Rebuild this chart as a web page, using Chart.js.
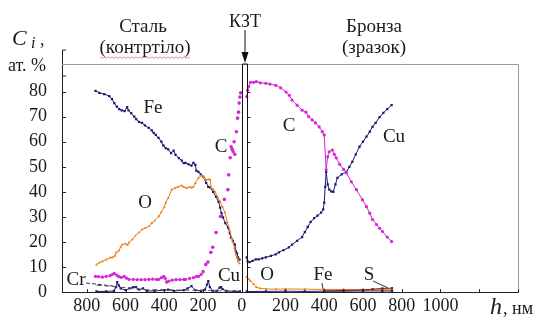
<!DOCTYPE html>
<html>
<head>
<meta charset="utf-8">
<script src="https://cdn.jsdelivr.net/npm/chart.js@4"></script>
<style>
  body { margin: 0; background: #fff; }
  canvas { display: block; }
  .fontwarm { position: absolute; left: 0; top: 400px; font-family: 'Liberation Serif'; }
</style>
</head>
<body>
<canvas id="profileChart" width="543" height="318"></canvas>
<div class="fontwarm">Сталь (контртіло) 800 <i>Ci h</i></div>
<script>
// depth h (nm), concentration C (at. %)
// steel side (counterbody)
const steelFe = [[755,80.3],[735,79.5],[710,79],[684,78.2],[670,77],[658,75.4],[645,74],[633,73],[620,72.5],[605,72.2],[592,73.8],[585,72.5],[571,71.4],[555,70],[545,69],[531,67.9],[515,67.5],[500,66.5],[480,65.5],[465,64.5],[455,63.5],[444,62.7],[430,61.5],[415,60],[405,58.5],[393,57.5],[380,57],[365,55.5],[352,56.5],[342,54.8],[325,53.5],[310,52.5],[300,51.5],[291,51.6],[275,51],[260,50.5],[250,51.6],[240,50.8],[235,48.5],[224,48],[212,47],[199,46],[184,43.6],[173,42],[163,41.7],[148,40],[133,38],[120,36],[112,33.7],[105,31.5],[97,29.8],[85,27.5],[71,25.8],[62,23.5],[56,21.8],[46,20.5],[36,19],[31,16.3],[25,15.5],[20,13.9],[12,13]];
const steelO = [[750,11],[735,11.8],[720,12.3],[700,13],[680,13.8],[668,13.9],[655,14.5],[648,15.9],[635,16.5],[625,18],[617,19],[600,19.3],[590,18.8],[582,19.8],[565,21],[550,22.5],[531,23.8],[515,25],[500,25.5],[480,26.2],[465,27.5],[450,28.5],[429,30.2],[415,32],[400,34],[393,35.7],[380,37.5],[362,40.9],[345,41.5],[330,42],[311,42.5],[300,42],[285,41.5],[270,42],[260,41.7],[250,42],[240,43.5],[224,45.6],[210,46.5],[199,46],[189,45],[184,44.8],[170,45],[163,44.8],[158,41.7],[148,41],[138,40],[125,38],[112,36.1],[100,34],[87,31.7],[75,28],[61,24.2],[52,21.5],[46,19.8],[38,17.5],[31,15.1],[25,13.8],[20,12.3],[12,11.5]];
const steelC = [[755,6.3],[740,6.2],[720,6],[700,6.3],[680,6.6],[668,7.1],[658,7.5],[645,6.8],[635,6.2],[622,5.9],[607,6.3],[595,5.6],[582,5.1],[560,5.1],[540,5],[520,5],[500,5],[480,5.1],[460,5.2],[440,5.1],[429,5.1],[415,5.8],[403,6.3],[395,5.5],[388,4],[378,4.4],[360,4.8],[340,5],[320,5],[300,5.1],[291,5.1],[270,5.5],[250,5.8],[235,6.3],[224,6.3],[210,7.1]];
const steelCRise = [[200,8.2],[186,11],[175,12],[160,15.9],[150,17.9],[133,23.8],[110,30.2],[90,37],[72,40.9],[68,46.8],[60,53.6],[55,58],[50,57],[45,56],[40,60],[36,55],[28,64],[22,69.4],[17,71.8],[14,75.4],[10,77.8],[6,79.5]];
const steelCu = [[750,0.3],[700,0.3],[660,0.5],[650,2],[643,4],[635,2.7],[625,1.5],[600,0.8],[580,1.5],[560,2],[546,2],[530,1],[510,1.5],[490,0.5],[450,0.5],[400,0.8],[380,1],[350,0.5],[300,0.8],[280,1.5],[260,2.4],[240,0.8],[210,0.5],[190,1],[180,3],[173,4.4],[165,2],[150,0.5],[130,0.5],[115,1.8],[107,2],[100,1.2],[80,0.5],[40,0.3],[10,0.3]];
const steelCr = [[750,2.8],[700,2.5],[650,2.2],[600,1.8],[550,1.2],[500,1],[400,1],[300,0.8],[200,0.8],[100,0.5],[10,0.5]];

// bronze side (sample)
const bronzeC = [[0,78],[5,80.5],[10,82],[20,83.7],[36,83.7],[50,84],[70,83.5],[99,83.3],[120,83],[150,82.5],[175,81.5],[203,79.8],[220,78.5],[234,76.6],[260,74.6],[286,72.6],[306,71.8],[320,70],[338,68.7],[355,67.5],[374,65.9],[390,64],[400,62.7],[410,48.8],[418,54],[426,56],[442,56.7],[452,55],[462,53.6],[480,51],[500,49],[514,47.6],[540,44],[566,40.9],[597,36.9],[618,34.1],[635,31.5],[649,29],[670,27],[686,25.5],[701,24.2],[725,22],[748,20.2]];
const bronzeCu = [[0,13.9],[5,12.3],[15,12],[30,12.5],[47,13.1],[62,13.1],[80,13.5],[99,13.9],[125,14.5],[150,15.1],[166,15.9],[190,16.8],[218,17.9],[234,19],[260,20.5],[286,22],[300,24],[315,26],[330,28],[348,29.5],[365,30.5],[384,31.7],[395,33],[400,35.7],[405,42],[410,48],[418,43],[426,40.9],[436,40.2],[447,40],[458,43],[468,45.6],[490,47],[514,48],[530,50],[545,52],[563,55],[582,58],[600,60],[618,62],[635,64],[649,65.9],[665,67.5],[686,69.8],[705,71.5],[725,73],[748,74.6]];
const bronzeO = [[0,6],[10,5.2],[20,4.4],[36,3.2],[50,2],[70,1.5],[100,1.3],[150,1.2],[200,1.3],[300,1.2],[400,1.1],[500,1.1],[600,1],[700,1],[750,1]];
const bronzeFe = [[0,0.3],[100,0.3],[200,0.4],[300,0.3],[400,0.4],[500,0.4],[600,0.5],[700,0.5],[750,0.5]];
const bronzeS = [[400,0.5],[500,0.7],[600,0.9],[650,1.2],[700,1.5],[750,1.6]];

const steelTicks = [800, 600, 400, 200, 0];
const bronzeTicks = [200, 400, 600, 800, 1000];
const bronzeMarks = [1200, 1400];
const yTicks = [0, 10, 20, 30, 40, 50, 60, 70, 80];

const GAP = 25; // width of the friction contact zone between the two sides
const SERIF = '"Liberation Serif"';
const NAVY = '#1b1b73';
const MAGENTA = '#d625d6';
const ORANGE = '#e8801c';

const steel = arr => arr.map(p => ({ x: -p[0], y: p[1] }));
const bronze = arr => arr.map(p => ({ x: p[0] + GAP, y: p[1] }));

function series(data, color, style, extra) {
    return Object.assign({
        data: data,
        borderColor: color,
        backgroundColor: color,
        borderWidth: 1,
        pointRadius: 1.6,
        pointStyle: style,
        pointBorderWidth: 0,
        tension: 0
    }, extra || {});
}

const decor = {
    id: 'decor',
    afterDraw(chart) {
        const c = chart.ctx;
        const a = chart.chartArea;
        const xs = chart.scales.x;
        const ys = chart.scales.y;
        c.save();

        // frame top / right
        c.strokeStyle = '#9a9a9a';
        c.lineWidth = 1;
        c.beginPath();
        c.moveTo(a.left, a.top + 0.5);
        c.lineTo(a.right + 0.5, a.top + 0.5);
        c.lineTo(a.right + 0.5, a.bottom);
        c.stroke();

        // y axis extends above frame
        c.strokeStyle = '#222';
        c.beginPath();
        c.moveTo(a.left + 0.5, a.top);
        c.lineTo(a.left + 0.5, a.top - 14);
        c.lineTo(a.left + 4, a.top - 14);
        c.moveTo(a.left + 0.5, a.top + 12);
        c.lineTo(a.left + 4, a.top + 12);
        c.stroke();

        // inward ticks on y axis
        const x0 = Math.round(xs.getPixelForValue(0)) + 0.5;
        const x1 = Math.round(xs.getPixelForValue(GAP)) + 0.5;
        c.beginPath();
        yTicks.forEach(v => {
            const py = Math.round(ys.getPixelForValue(v)) + 0.5;
            c.moveTo(a.left, py); c.lineTo(a.left + 4, py);
            c.moveTo(x1, py); c.lineTo(x1 + 3, py);
        });
        // inward ticks on x axis
        steelTicks.forEach(v => {
            const px = Math.round(xs.getPixelForValue(-v)) + 0.5;
            c.moveTo(px, a.bottom); c.lineTo(px, a.bottom - 3);
        });
        bronzeTicks.concat(bronzeMarks).forEach(v => {
            const px = Math.round(xs.getPixelForValue(v + GAP)) + 0.5;
            c.moveTo(px, a.bottom); c.lineTo(px, a.bottom - 3);
        });
        c.stroke();

        // contact zone double line
        c.strokeStyle = '#111';
        c.beginPath();
        c.moveTo(x0, a.bottom); c.lineTo(x0, a.top); c.lineTo(x1, a.top); c.lineTo(x1, a.bottom);
        c.stroke();

        // arrow from КЗТ
        const ax = (x0 + x1) / 2;
        c.fillStyle = '#111';
        c.beginPath();
        c.moveTo(ax, 30); c.lineTo(ax, a.top - 8);
        c.stroke();
        c.beginPath();
        c.moveTo(ax - 3.5, a.top - 12); c.lineTo(ax + 3.5, a.top - 12); c.lineTo(ax, a.top - 1);
        c.closePath();
        c.fill();

        // texts
        c.fillStyle = '#1a1a1a';
        c.textBaseline = 'alphabetic';
        c.textAlign = 'center';
        c.font = '19px ' + SERIF;
        c.fillText('Сталь', 143, 32);
        c.fillText('(контртіло)', 145, 53);
        c.fillText('Бронза', 374, 32);
        c.fillText('(зразок)', 374, 53);
        c.font = '18px ' + SERIF;
        c.fillText('КЗТ', ax, 27);

        // spellcheck squiggle under (контртіло)
        c.strokeStyle = 'rgba(220,60,60,0.55)';
        c.beginPath();
        for (let x = 100; x <= 190; x += 2) {
            const y = 57 + ((x / 2) % 2 === 0 ? 0 : 1.2);
            if (x === 100) c.moveTo(x, y); else c.lineTo(x, y);
        }
        c.stroke();

        c.textAlign = 'left';
        c.font = 'italic 22px ' + SERIF;
        c.fillText('C', 12, 45);
        c.font = 'italic 16px ' + SERIF;
        c.fillText('i', 31, 48);
        c.font = '18px ' + SERIF;
        c.fillText(',', 40, 45);
        c.fillText('ат. %', 8, 71);

        c.font = 'italic 24px ' + SERIF;
        c.fillText('h', 490, 314);
        c.font = '18px ' + SERIF;
        c.fillText(', нм', 503, 314);

        // series names
        c.textAlign = 'center';
        c.textBaseline = 'middle';
        c.font = '19px ' + SERIF;
        [['Fe', 153, 108], ['C', 221, 147], ['O', 145, 203], ['Cr', 76, 280], ['Cu', 229, 276],
         ['C', 289, 126], ['Cu', 394, 137], ['O', 267, 275], ['Fe', 323, 275], ['S', 369, 275]]
            .forEach(t => c.fillText(t[0], t[1], t[2]));

        // leader lines
        c.strokeStyle = '#333';
        c.beginPath();
        c.moveTo(322, 283); c.lineTo(323, 289);
        c.moveTo(373, 281); c.lineTo(388, 288);
        c.stroke();
        c.setLineDash([4, 2]);
        c.beginPath();
        c.moveTo(86, 283); c.lineTo(113, 286);
        c.stroke();
        c.restore();
    }
};

function build() {
    const ctx = document.getElementById('profileChart').getContext('2d');
    return new Chart(ctx, {
        type: 'line',
        data: {
            datasets: [
                series(steel(steelCr), '#555', false, { pointRadius: 0, borderDash: [5, 3] }),
                series(steel(steelCu), NAVY, 'rect'),
                series(steel(steelC), MAGENTA, 'circle', { borderDash: [3, 1] }),
                series(steel(steelCRise), MAGENTA, 'circle', { showLine: false, pointRadius: 1.8 }),
                series(steel(steelO), ORANGE, 'triangle'),
                series(steel(steelFe), NAVY, 'rect'),
                series(bronze(bronzeFe), NAVY, 'rect'),
                series(bronze(bronzeS), '#8b1e05', 'rect'),
                series(bronze(bronzeO), ORANGE, 'triangle'),
                series(bronze(bronzeC), MAGENTA, 'circle'),
                series(bronze(bronzeCu), NAVY, 'rect')
            ]
        },
        options: {
            responsive: false,
            animation: false,
            devicePixelRatio: 1,
            layout: { padding: { top: 64, right: 25, left: 0, bottom: 0 } },
            plugins: {
                legend: { display: false },
                tooltip: { enabled: false }
            },
            scales: {
                x: {
                    type: 'linear',
                    min: -928,
                    max: 1400 + GAP,
                    grid: { display: false, drawTicks: false },
                    border: { color: '#222', width: 1 },
                    afterBuildTicks: scale => {
                        scale.ticks = steelTicks.map(v => ({ value: -v }))
                            .concat(bronzeTicks.map(v => ({ value: v + GAP })));
                    },
                    afterFit: scale => { scale.height = 25; },
                    ticks: {
                        autoSkip: false,
                        maxRotation: 0,
                        padding: 3,
                        color: '#1a1a1a',
                        font: { family: SERIF, size: 18 },
                        callback: v => String(v < 0 ? -v : (v === 0 ? 0 : v - GAP))
                    }
                },
                y: {
                    min: 0,
                    max: 91,
                    grid: { display: false, drawTicks: false },
                    border: { color: '#222', width: 1 },
                    afterBuildTicks: scale => {
                        scale.ticks = yTicks.map(v => ({ value: v }));
                    },
                    afterFit: scale => { scale.width = 62; },
                    ticks: {
                        padding: 15,
                        color: '#1a1a1a',
                        font: { family: SERIF, size: 18 }
                    }
                }
            }
        },
        plugins: [decor]
    });
}

let chart;
document.fonts.load('19px "Liberation Serif"').then(() => {
    chart = build();
}).catch(() => {
    chart = build();
});
</script>
</body>
</html>
